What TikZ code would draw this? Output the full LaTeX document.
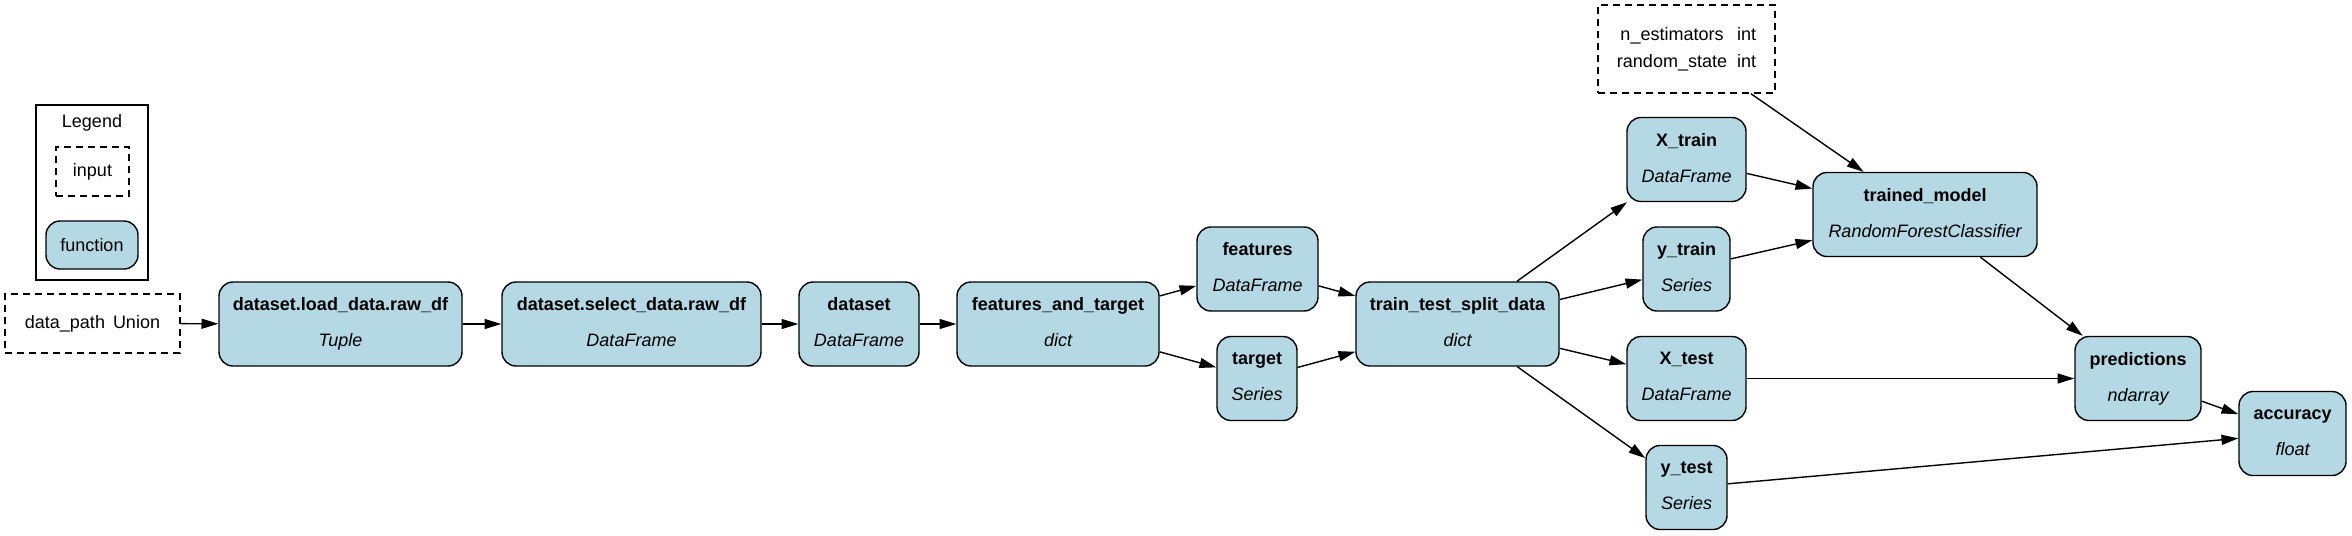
\documentclass[tikz,border=0pt]{standalone}
\usepackage{fontspec}
\setmainfont{Liberation Sans}
\usetikzlibrary{arrows.meta}
\definecolor{fnblue}{HTML}{B4D8E4}
\newcommand{\px}{0.025cm}
\newcommand{\fnlabel}[2]{{\bfseries\vphantom{Ay}#1}\\{\itshape\vphantom{Ay}#2}}
\tikzset{
  fn/.style={draw, fill=fnblue, rounded corners=0.35cm, line width=0.035cm, align=center, inner sep=0pt, minimum height=84*\px},
  inp/.style={draw, dash pattern=on 0.175cm off 0.125cm, line width=0.035cm, inner sep=0pt},
  flow/.style={-{Triangle[length=0.42cm,width=0.25cm]}, line width=0.035cm},
}
\begin{document}
\begin{tikzpicture}[x=\px, y=-\px, font=\fontsize{12.8}{25.6}\selectfont]
    \useasboundingbox (0,0) rectangle (2352,535);
    % legend
    \node [draw, line width=0.035cm, minimum width=112*\px, minimum height=175*\px, inner sep=0pt] (legend) at (92,192.5) {};
    \node (legendtitle) at (92,123) {Legend};
    \node [inp, minimum width=73*\px, minimum height=49*\px] (leginput) at (92.5,171.5) {input};
    \node [fn, minimum width=92*\px, minimum height=48*\px] (legfunc) at (92,245) {function};
    % inputs
    \node [inp, minimum width=175*\px, minimum height=59*\px] (datapath) at (92.5,323.5) {data\_path\hspace{0.2cm}Union};
    \node [inp, minimum width=177*\px, minimum height=88*\px] (params) at (1686.5,49) {\fontsize{12.8}{19.2}\selectfont
      \begin{tabular}{@{}c@{\hspace{0.25cm}}l@{}}
        n\_estimators & int\\
        random\_state & int
      \end{tabular}};
    % functions
    \node [fn, minimum width=243*\px] (load) at (340.5,324) {\fnlabel{dataset.load\_data.raw\_df}{Tuple}};
    \node [fn, minimum width=259*\px] (select) at (631.5,324) {\fnlabel{dataset.select\_data.raw\_df}{DataFrame}};
    \node [fn, minimum width=120*\px] (dataset) at (859,324) {\fnlabel{dataset}{DataFrame}};
    \node [fn, minimum width=202*\px] (fat) at (1058,324) {\fnlabel{features\_and\_target}{dict}};
    \node [fn, minimum width=121*\px] (features) at (1257.5,269) {\fnlabel{features}{DataFrame}};
    \node [fn, minimum width=80*\px] (target) at (1257,378.5) {\fnlabel{target}{Series}};
    \node [fn, minimum width=203*\px] (tts) at (1457.5,324) {\fnlabel{train\_test\_split\_data}{dict}};
    \node [fn, minimum width=119*\px] (xtrain) at (1686.5,159.5) {\fnlabel{X\_train}{DataFrame}};
    \node [fn, minimum width=87*\px] (ytrain) at (1686.5,269) {\fnlabel{y\_train}{Series}};
    \node [fn, minimum width=119*\px] (xtest) at (1686.5,378.5) {\fnlabel{X\_test}{DataFrame}};
    \node [fn, minimum width=81*\px] (ytest) at (1686.5,487.5) {\fnlabel{y\_test}{Series}};
    \node [fn, minimum width=224*\px] (trained) at (1925,214.5) {\fnlabel{trained\_model}{RandomForestClassifier}};
    \node [fn, minimum width=126*\px] (predictions) at (2138,378.5) {\fnlabel{predictions}{ndarray}};
    \node [fn, minimum width=107*\px] (accuracy) at (2292.5,433.5) {\fnlabel{accuracy}{float}};
    % edges
    \draw [flow] (datapath) -- (load);
    \draw [flow] (load) -- (select);
    \draw [flow] (select) -- (dataset);
    \draw [flow] (dataset) -- (fat);
    \draw [flow] (fat) -- (features);
    \draw [flow] (fat) -- (target);
    \draw [flow] (features) -- (tts);
    \draw [flow] (target) -- (tts);
    \draw [flow] (tts) -- (xtrain);
    \draw [flow] (tts) -- (ytrain);
    \draw [flow] (tts) -- (xtest);
    \draw [flow] (tts) -- (ytest);
    \draw [flow] (params) -- (trained);
    \draw [flow] (xtrain) -- (trained);
    \draw [flow] (ytrain) -- (trained);
    \draw [flow] (trained) -- (predictions);
    \draw [flow] (xtest) -- (predictions);
    \draw [flow] (predictions) -- (accuracy);
    \draw [flow] (ytest) -- (accuracy);
\end{tikzpicture}
\end{document}
